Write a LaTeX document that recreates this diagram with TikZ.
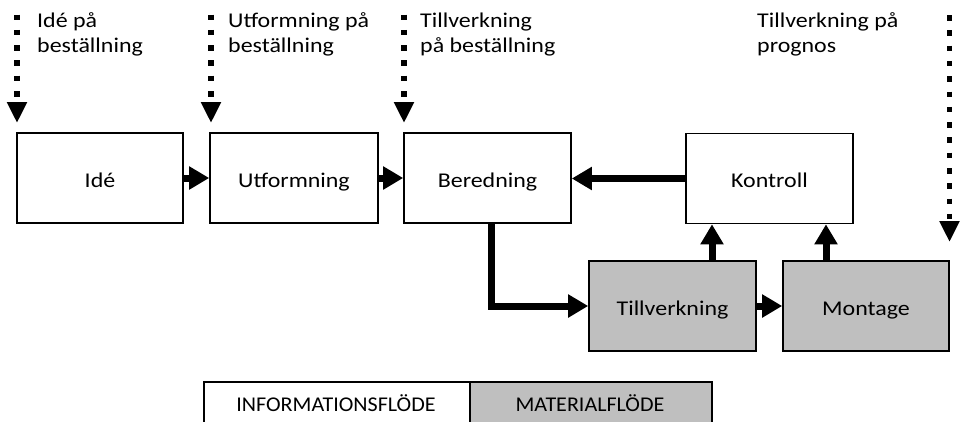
\documentclass[tikz,border=0pt]{standalone}
\usepackage{fontspec}
\setmainfont{Carlito}[FakeStretch=1.14]
\newfontfamily\legendfont{Carlito}[FakeStretch=1.05]
\usetikzlibrary{arrows.meta}
\definecolor{matgray}{HTML}{BFBFBF}
\tikzset{
  stage/.style={draw=black, line width=1.6pt, minimum width=166pt, minimum height=90pt,
                inner sep=0pt, text height=18pt, text depth=0pt,
                font=\fontsize{21}{25}\selectfont},
  matstage/.style={stage, fill=matgray},
  flow/.style={line width=7pt, -{Triangle[width=22pt,length=20pt]}},
  orderflow/.style={line width=5.5pt, dash pattern=on 5.5pt off 9.8pt,
                    -{Triangle[width=19pt,length=21pt]}},
  note/.style={anchor=base west, inner sep=0pt, align=left,
               font=\fontsize{21}{25}\selectfont},
  legendbox/.style={draw=black, line width=1.6pt, minimum height=60pt, minimum width=266pt,
                    inner sep=0pt, anchor=north west},
  legendtext/.style={anchor=base, inner sep=0pt, font=\legendfont\fontsize{21}{25}\selectfont},
}
\begin{document}
\begin{tikzpicture}[x=1pt, y=-1pt]
\path[use as bounding box, clip] (0,0) rectangle (960,421);

% process stages
\node[stage] (ide) at (100,178) {Idé};
\node[stage, minimum width=168pt] (utf) at (294,178) {Utformning};
\node[stage, minimum width=167pt] (ber) at (487.5,178) {Beredning};
\node[stage, minimum width=167pt] (kon) at (769.5,178.5) {Kontroll};
\node[matstage, minimum width=167pt] (till) at (672.5,306) {Tillverkning};
\node[matstage] (mon) at (866,306) {Montage};

% flows between stages
\draw[flow] (ide.east) -- (utf.west);
\draw[flow] (utf.east) -- (ber.west);
\draw[flow] (kon.west) -- (ber.east |- kon.west);
\coordinate (bs) at ([xshift=3.5pt]ber.south);
\draw[flow] (bs) |- (till.west);
\draw[flow] (till.east) -- (mon.west);
\coordinate (tk) at ([xshift=39.5pt]till.north);
\coordinate (mk) at ([xshift=-40pt]mon.north);
\draw[flow] (tk) -- (tk |- kon.south);
\draw[flow] (mk) -- (mk |- kon.south);

% customer order points
\coordinate (o1a) at (17,14.5);   \coordinate (o1b) at (17,123);
\coordinate (o2a) at (211,14.5);  \coordinate (o2b) at (211,123);
\coordinate (o3a) at (404,14.5);  \coordinate (o3b) at (404,123);
\coordinate (o4a) at (949.5,15);  \coordinate (o4b) at (949.5,242);
\draw[orderflow] (o1a) -- (o1b);
\draw[orderflow] (o2a) -- (o2b);
\draw[orderflow] (o3a) -- (o3b);
\draw[orderflow] (o4a) -- (o4b);

% order point labels (anchored on the baseline of their last line)
\node[note] (n1) at (37,52) {Idé på\\beställning};
\node[note] (n2) at (228,52) {Utformning på\\beställning};
\node[note] (n3) at (420,52) {Tillverkning\\på beställning};
\node[note] (n4) at (757,52) {Tillverkning på\\prognos};

% legend
\node[legendbox] (linfo) at (203,381) {};
\node[legendbox, fill=matgray, minimum width=242pt] (lmat) at (469,381) {};
\node[legendtext] (tinfo) at (336,411) {INFORMATIONSFLÖDE};
\node[legendtext] (tmat) at (590,411) {MATERIALFLÖDE};
\end{tikzpicture}
\end{document}
